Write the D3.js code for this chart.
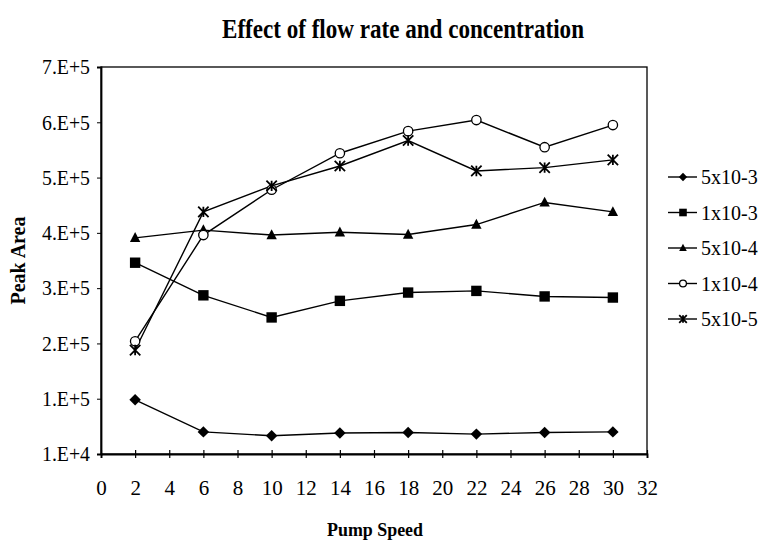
<!DOCTYPE html>
<html>
<head>
<meta charset="utf-8">
<script src="https://cdn.jsdelivr.net/npm/d3@7"></script>
<style>
  body { margin: 0; background: #fff; }
  svg, svg text { font-family: "Liberation Serif", "Times New Roman", serif; }
</style>
</head>
<body>
<div class="chart"></div>
<script>
// data
const pumpSpeed = [2, 6, 10, 14, 18, 22, 26, 30];
const seriesNames = ['5x10-3', '1x10-3', '5x10-4', '1x10-4', '5x10-5'];
const conc5e3 = [108000, 50000, 43000, 48000, 49000, 46000, 49000, 50000];
const conc1e3 = [356000, 297000, 257000, 287000, 302000, 305000, 295000, 293000];
const conc5e4 = [401000, 415000, 406000, 411000, 407000, 425000, 465000, 448000];
const conc1e4 = [214000, 406000, 488000, 554000, 594000, 614000, 565000, 605000];
const conc5e5 = [198000, 448000, 495000, 531000, 577000, 522000, 528000, 542000];
const yTickValues = [10000, 110000, 210000, 310000, 410000, 510000, 610000, 710000];
const yTickLabels = ['1.E+4', '1.E+5', '2.E+5', '3.E+5', '4.E+5', '5.E+5', '6.E+5', '7.E+5'];
const xTickValues = d3.range(0, 33, 2);

const seriesValues = [conc5e3, conc1e3, conc5e4, conc1e4, conc5e5];
const markers = ['diamond', 'square', 'triangle', 'circle', 'star'];

const width = 759, height = 542;
const margin = { top: 67, right: 112, bottom: 88, left: 101 };

const svg = d3.select('.chart').append('svg')
    .attr('width', width).attr('height', height);

const x = d3.scaleLinear([0, 32], [margin.left, width - margin.right]);
const y = d3.scaleLinear([10000, 710000], [height - margin.bottom, margin.top]);

// marker drawing
function drawMarker(g, type, s) {
    if (type === 'diamond') {
        g.append('path').attr('d', `M0,${-s * 1.1}L${s * 1.1},0L0,${s * 1.1}L${-s * 1.1},0Z`).attr('fill', '#000');
    } else if (type === 'square') {
        g.append('rect').attr('x', -s).attr('y', -s)
            .attr('width', s * 2).attr('height', s * 2).attr('fill', '#000');
    } else if (type === 'triangle') {
        g.append('path').attr('d', `M0,${-s * 1.1}L${s},${s * 0.8}L${-s},${s * 0.8}Z`).attr('fill', '#000');
    } else if (type === 'circle') {
        g.append('circle').attr('r', s * 0.9).attr('fill', '#fff')
            .attr('stroke', '#000').attr('stroke-width', 1.3);
    } else {
        g.append('path')
            .attr('d', `M${-s},${-s}L${s},${s}M${-s},${s}L${s},${-s}M0,${-s}L0,${s}`)
            .attr('stroke', '#000').attr('stroke-width', 1.8).attr('fill', 'none');
    }
}

// frame
svg.append('rect')
    .attr('x', x(0)).attr('y', y(710000))
    .attr('width', x(32) - x(0)).attr('height', y(10000) - y(710000))
    .attr('fill', 'none').attr('stroke', '#000').attr('stroke-width', 1.3);

// axes
const xAxis = d3.axisBottom(x).tickValues(xTickValues).tickSize(4).tickFormat(d3.format('d'));
const xAxisDraw = svg.append('g').attr('transform', `translate(0,${y(10000)})`).call(xAxis);
xAxisDraw.attr('font-family', null).attr('font-size', 21);
xAxisDraw.selectAll('.tick line').attr('y1', -4).attr('y2', 4).attr('stroke-width', 1.2);
xAxisDraw.select('.domain').attr('stroke-width', 1.8);
xAxisDraw.selectAll('text').attr('y', 34).attr('dy', '0.32em');

const yAxis = d3.axisLeft(y).tickValues(yTickValues).tickSize(4)
    .tickFormat((d, i) => yTickLabels[i]);
const yAxisDraw = svg.append('g').attr('transform', `translate(${x(0)},0)`).call(yAxis);
yAxisDraw.attr('font-family', null).attr('font-size', 21);
yAxisDraw.select('.domain').attr('stroke-width', 1.8);
yAxisDraw.selectAll('text').attr('x', -11).attr('textLength', 48).attr('lengthAdjust', 'spacingAndGlyphs');
svg.selectAll('.domain, .tick line').attr('stroke', '#000');

// lines and markers
const line = d3.line().x((d, i) => x(pumpSpeed[i])).y(d => y(d));
seriesValues.forEach((vals, k) => {
    svg.append('path').datum(vals).attr('d', line)
        .attr('fill', 'none').attr('stroke', '#000').attr('stroke-width', 1.4);
});
seriesValues.forEach((vals, k) => {
    vals.forEach((v, i) => {
        const g = svg.append('g').attr('transform', `translate(${x(pumpSpeed[i])},${y(v)})`);
        drawMarker(g, markers[k], 5.2);
    });
});

// legend
const legend = svg.append('g').attr('transform', 'translate(668,177)');
seriesNames.forEach((name, i) => {
    const g = legend.append('g').attr('transform', `translate(0,${i * 35.5})`);
    g.append('line').attr('x1', 0).attr('x2', 29).attr('stroke', '#000').attr('stroke-width', 1.4);
    const m = g.append('g').attr('transform', 'translate(15,0)');
    drawMarker(m, markers[i], 3.8);
    g.append('text').attr('x', 33).attr('dy', '0.35em').text(name)
        .style('font-size', '20px');
});

// titles
svg.append('text').attr('x', 403).attr('y', 38).attr('text-anchor', 'middle')
    .attr('textLength', 362).attr('lengthAdjust', 'spacingAndGlyphs')
    .style('font-size', '27px').style('font-weight', 'bold')
    .text('Effect of flow rate and concentration');

svg.append('text').attr('x', 375).attr('y', 536).attr('text-anchor', 'middle')
    .attr('textLength', 96).attr('lengthAdjust', 'spacingAndGlyphs')
    .style('font-size', '19px').style('font-weight', 'bold')
    .text('Pump Speed');

svg.append('text').attr('transform', `translate(25,${(y(10000) + y(710000)) / 2}) rotate(-90)`)
    .attr('text-anchor', 'middle')
    .style('font-size', '20px').style('font-weight', 'bold')
    .text('Peak Area');
</script>
</body>
</html>
